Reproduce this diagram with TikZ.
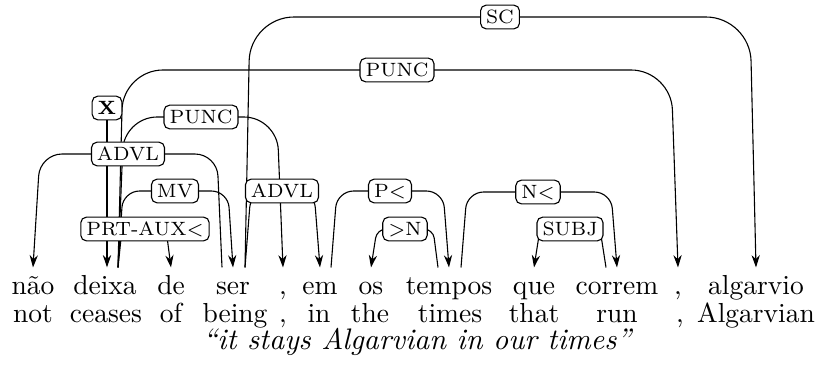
\documentclass[tikz,border=0pt]{standalone}
\usetikzlibrary{calc,arrows.meta}
\pgfdeclarelayer{bg}
\pgfsetlayers{bg,main}
\begin{document}
\begin{tikzpicture}[x=0.3636pt,y=-0.3636pt,
  word/.style={anchor=base,inner sep=0pt,text height=9.45pt,font=\fontsize{10}{12}\selectfont},
  gloss/.style={anchor=base,inner sep=0pt,font=\fontsize{10}{12}\selectfont},
  lab/.style={draw,rounded corners=2pt,fill=white,inner xsep=2pt,inner ysep=1.7pt,font=\scriptsize,text height=4.9pt,text depth=0.3pt,line width=0.4pt},
  dep/.style={line width=0.4pt,-{Stealth[length=4.5pt,width=3pt]}},
]
\useasboundingbox (0,0) rectangle (821,365);
% words
\node[word] (w1) at (33,294) {não};
\node[word] (w2) at (105,294) {deixa};
\node[word] (w3) at (171,294) {de};
\node[word] (w4) at (233,294) {ser};
\node[word] (w5) at (283,294) {,};
\node[word] (w6) at (320,294) {em};
\node[word] (w7) at (371,294) {os};
\node[word] (w8) at (449,294) {tempos};
\node[word] (w9) at (534,294) {que};
\node[word] (w10) at (617,294) {correm};
\node[word] (w11) at (678,294) {,};
\node[word] (w12) at (756,294) {algarvio};
% glosses
\node[gloss] (g1) at (33,322) {not};
\node[gloss] (g2) at (106,322) {ceases};
\node[gloss] (g3) at (171,322) {of};
\node[gloss] (g4) at (235,322) {being};
\node[gloss] (g5) at (283,322) {,};
\node[gloss] (g6) at (319,322) {in};
\node[gloss] (g7) at (370,322) {the};
\node[gloss] (g8) at (450,322) {times};
\node[gloss] (g9) at (534,322) {that};
\node[gloss] (g10) at (617,322) {run};
\node[gloss] (g11) at (680,322) {,};
\node[gloss] (g12) at (756,322) {Algarvian};
\node[gloss,font=\fontsize{10.8}{13}\selectfont\itshape] (tr) at (417,349) {``it stays Algarvian in our times''};
% labels
\node[lab] (SC) at (500,17) {SC};
\node[lab] (PUNCa) at (397,70) {PUNC};
\node[lab,font=\scriptsize\bfseries] (X) at (107,108) {X};
\node[lab] (PUNCb) at (201,117) {PUNC};
\node[lab] (ADVLa) at (128,154) {ADVL};
\node[lab] (MV) at (175,191) {MV};
\node[lab] (ADVLb) at (282,191) {ADVL};
\node[lab] (Pl) at (390,191) {P$<$};
\node[lab] (Nl) at (538,192) {N$<$};
\node[lab] (PRT) at (145,229) {PRT-AUX$<$};
\node[lab] (gN) at (405,229) {$>$N};
\node[lab] (SUBJ) at (570,229) {SUBJ};
% edges
\begin{pgfonlayer}{bg}
\draw[dep,rounded corners=16pt] ($(w4.north)+(12,0)$) -- ($(w4.north |- SC)+(17,0)$) -- ($(w12.north |- SC)+(-6,0)$) -- (w12.north);
\draw[dep,rounded corners=14.5pt] ($(w2.north)+(13,0)$) -- ($(w2.north |- PUNCa)+(18,0)$) -- ($(w11.north |- PUNCa)+(-7,0)$) -- (w11.north);
\draw[dep] (X.south) -- (X |- w2.north);
\draw[dep,rounded corners=12pt] ($(w2.north)+(13,0)$) -- ($(w2.north |- PUNCb)+(19,0)$) -- ($(w5.north |- PUNCb)+(-6,0)$) -- (w5.north);
\draw[dep,rounded corners=8pt] ($(w4.north)+(-11,0)$) -- ($(w4.north |- ADVLa)+(-16,0)$) -- ($(w1.north |- ADVLa)+(7,0)$) -- (w1.north);
\draw[dep,rounded corners=6pt] ($(w2.north)+(13,0)$) -- ($(w2.north |- MV)+(18,0)$) -- ($(w4.north |- MV)+(-5,0)$) -- (w4.north);
\draw[dep,rounded corners=3pt] ($(w2.north)+(13,0)$) -- ($(w2.north |- PRT)+(17,0)$) -- ($(w3.north |- PRT)+(-5,0)$) -- (w3.north);
\draw[dep,rounded corners=6pt] ($(w4.north)+(12,0)$) -- ($(w4.north |- ADVLb)+(18,0)$) -- ($(w6.north |- ADVLb)+(-6,0)$) -- (w6.north);
\draw[dep,rounded corners=6pt] ($(w6.north)+(11,0)$) -- ($(w6.north |- Pl)+(17,0)$) -- ($(w8.north |- Pl)+(-6,0)$) -- (w8.north);
\draw[dep,rounded corners=3.3pt] ($(w8.north)+(-11,0)$) -- ($(w8.north |- gN)+(-16,0)$) -- ($(w7.north |- gN)+(6,0)$) -- (w7.north);
\draw[dep,rounded corners=6pt] ($(w8.north)+(12,0)$) -- ($(w8.north |- Nl)+(18,0)$) -- ($(w10.north |- Nl)+(-6,0)$) -- (w10.north);
\draw[dep,rounded corners=3.3pt] ($(w10.north)+(-11,0)$) -- ($(w10.north |- SUBJ)+(-17,0)$) -- ($(w9.north |- SUBJ)+(6,0)$) -- (w9.north);
\end{pgfonlayer}
\end{tikzpicture}
\end{document}
